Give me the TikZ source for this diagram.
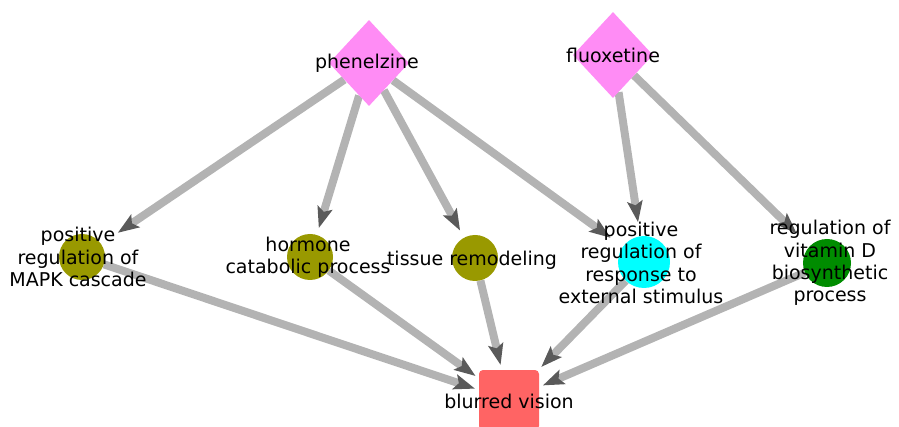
\documentclass[tikz,border=0pt]{standalone}
\usepackage{fontspec}
\setmainfont{DejaVu Sans}
\usetikzlibrary{shapes.geometric,arrows.meta,backgrounds}
\definecolor{drugpink}{HTML}{FF8CF5}
\definecolor{olive}{HTML}{999900}
\definecolor{cyanc}{HTML}{00FFFF}
\definecolor{greenc}{HTML}{008C00}
\definecolor{redc}{HTML}{FF6464}
\definecolor{edgegray}{HTML}{B3B3B3}
\definecolor{tipgray}{HTML}{5A5A5A}
\begin{document}
\begin{tikzpicture}[x=1pt,y=-1pt,
 drug/.style={diamond, fill=drugpink, minimum width=80pt, minimum height=86pt, inner sep=0pt},
 proc/.style={circle, minimum size=46pt, inner sep=0pt},
 effect/.style={rectangle, rounded corners=4pt, fill=redc, minimum width=60pt, minimum height=60pt, inner sep=0pt},
 lab/.style={font=\fontsize{19}{22.3}\selectfont, align=center, text=black, inner sep=0pt},
 edge/.style={draw=edgegray, line width=8pt, shorten >=#1, -{Stealth[length=21pt,width=15pt,inset=4pt,color=tipgray]}},
 edge/.default=8pt
]
\useasboundingbox (0,0) rectangle (899,427);
% shapes
\node[drug] (phen) at (369,63) {};
\node[drug] (fluox) at (613,55) {};
\node[proc, fill=olive] (mapk) at (82,257) {};
\node[proc, fill=olive] (horm) at (310,257) {};
\node[proc, fill=olive] (tiss) at (475,258) {};
\node[proc, fill=cyanc, minimum size=52pt] (resp) at (644,262) {};
\node[proc, fill=greenc, minimum size=48pt] (vitd) at (827,263) {};
\node[effect] (blur) at (509,400) {};
% labels
\node[lab] (phenL) at (367,63) {phenelzine};
\node[lab] (fluoxL) at (613,55) {fluoxetine};
\node[lab] (mapkL) at (78,257) {positive\\regulation of\\MAPK cascade};
\node[lab] (hormL) at (308,257) {hormone\\catabolic process};
\node[lab] (tissL) at (472,260) {tissue remodeling};
\node[lab] (respL) at (641,263) {positive\\regulation of\\response to\\external stimulus};
\node[lab] (vitdL) at (830,263) {regulation of\\vitamin D\\biosynthetic\\process};
\node[lab] (blurL) at (509,401) {blurred vision};
% edges
\begin{scope}[on background layer]
\draw[edge=20pt] (phen) -- (mapk);
\draw[edge=7pt] (phen) -- (horm);
\draw[edge=8pt] (phen) -- (tiss);
\draw[edge=15pt] (phen) -- (resp);
\draw[edge=14pt] (fluox) -- (resp);
\draw[edge=18pt] (fluox) -- (vitd);
\draw[edge=4pt] (mapk) -- (blur);
\draw[edge=4pt] (horm) -- (blur);
\draw[edge=5pt] (tiss) -- (blur);
\draw[edge=4pt] (resp) -- (blur);
\draw[edge=4pt] (vitd) -- (blur);
\end{scope}
\end{tikzpicture}
\end{document}
